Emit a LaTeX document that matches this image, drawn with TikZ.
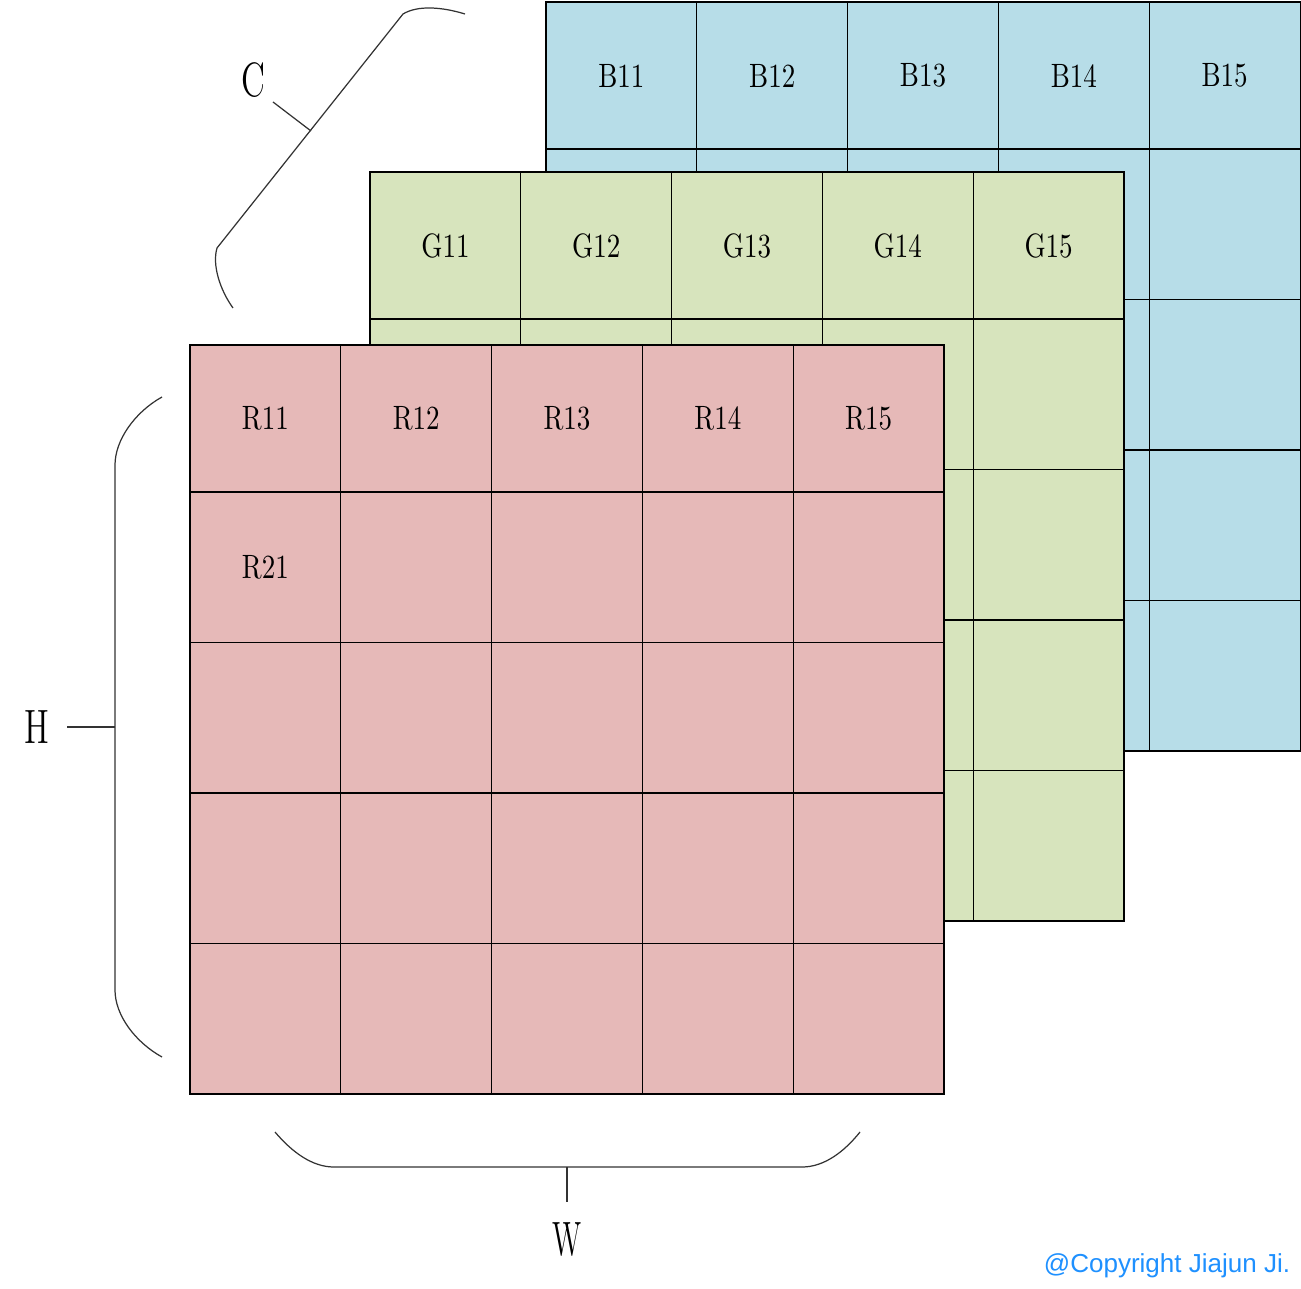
\documentclass[tikz,border=0pt]{standalone}
\usepackage{fontspec}
\newfontfamily\copyfont{Liberation Sans}
\definecolor{bluefill}{HTML}{B7DDE8}
\definecolor{greenfill}{HTML}{D7E4BD}
\definecolor{redfill}{HTML}{E6B9B8}
\definecolor{copyblue}{HTML}{1E90FF}
\newcommand{\narrow}[2][0.8]{\scalebox{#1}[1]{#2}}
\tikzset{
    grid line/.style={line width=0.3pt, black},
    brace line/.style={line width=0.35pt, black!80},
    cell label/.style={inner sep=0pt, font=\fontsize{9.6}{11}\selectfont},
    axis label/.style={inner sep=0pt, font=\fontsize{13.7}{15}\selectfont}
}

\begin{document}
\begin{tikzpicture}[x=0.01cm, y=-0.01cm]

    % --- FRAME (pixel grid: x right, y down) ---
    \useasboundingbox (0,0) rectangle (1301,1289);

    % --- CHANNEL LAYERS: B at the back, then G, then R in front ---
    % each layer: 5 x 5 cells, first row a little shorter
    \foreach \x/\y/\col/\ch in {546/2/bluefill/B, 370/172/greenfill/G, 190/345/redfill/R} {
        \fill[\col] (\x,\y) rectangle ++(754,749);
        \draw[grid line] (\x,\y) rectangle ++(754,749);
        \foreach \i in {1,...,4}
            \draw[grid line] ({\x+\i*150.8},\y) -- ++(0,749);
        \foreach \j in {0,...,3}
            \draw[grid line] (\x,{\y+147+\j*150.5}) -- ++(754,0);
        \foreach \k in {1,...,5}
            \node[cell label] (\ch1\k) at ({\x+(\k-0.5)*150.8},{\y+73.5}) {\narrow{\ch1\k}};
    }
    % second row of the red layer
    \node[cell label] (R21) at (265.4,567.3) {\narrow{R21}};

    % --- C BRACE (along the diagonal) ---
    \coordinate (cBot) at (233,308);
    \coordinate (cTop) at (465,14);
    \coordinate (cTip) at (311,131);
    \coordinate (cEnd) at (273,102);
    \draw[brace line] (cBot) .. controls (220,290) and (212,265) .. (217,248)
        -- (403,14) .. controls (418,5) and (442,7) .. (cTop);
    \draw[brace line] (cTip) -- (cEnd);
    \node[axis label] (cLabel) at (253,80) {\narrow[0.7]{C}};

    % --- H BRACE (left side) ---
    \coordinate (hTop) at (162,397);
    \coordinate (hBot) at (162,1057);
    \coordinate (hTip) at (115,727);
    \coordinate (hEnd) at (67,727);
    \draw[brace line] (hTop) .. controls (135,412) and (115,440) .. (115,465)
        -- (115,990) .. controls (115,1015) and (135,1042) .. (hBot);
    \draw[brace line] (hTip) -- (hEnd);
    \node[axis label] (hLabel) at (37,727) {\narrow[0.7]{H}};

    % --- W BRACE (bottom) ---
    \coordinate (wLeft) at (275,1132);
    \coordinate (wRight) at (860,1132);
    \coordinate (wTip) at (567,1167);
    \coordinate (wEnd) at (567,1202);
    \draw[brace line] (wLeft) .. controls (292,1152) and (312,1167) .. (334,1167)
        -- (802,1167) .. controls (824,1167) and (844,1152) .. (wRight);
    \draw[brace line] (wTip) -- (wEnd);
    \node[axis label] (wLabel) at (567,1240) {\narrow[0.6]{W}};

    % --- CREDIT ---
    \node[inner sep=0pt, text=copyblue, font=\copyfont\fontsize{7.4}{9}\selectfont]
        (credit) at (1167,1266) {@Copyright Jiajun Ji.};

\end{tikzpicture}
\end{document}
